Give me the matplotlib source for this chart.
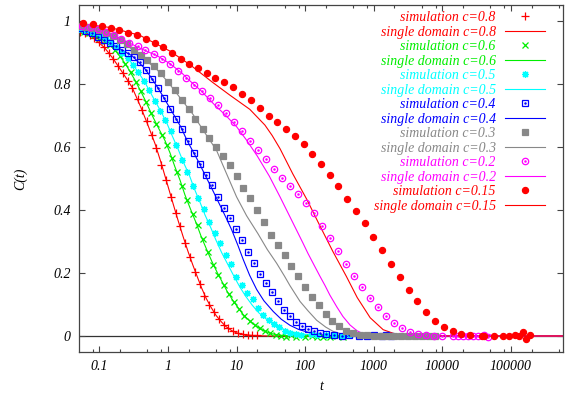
import matplotlib
matplotlib.use('Agg')
import matplotlib.pyplot as plt
from matplotlib.ticker import FixedLocator, NullFormatter

plt.rcParams['font.family'] = 'serif'
plt.rcParams['font.serif'] = ['Liberation Serif', 'DejaVu Serif']
plt.rcParams['font.style'] = 'italic'

# ---- simulation data ----
t_08 = [0.052, 0.061, 0.072, 0.084, 0.099, 0.116, 0.137, 0.16, 0.19, 0.22, 0.26, 0.30, 0.36, 0.42, 0.49,
        0.58, 0.68, 0.80, 0.94, 1.1, 1.3, 1.5, 1.8, 2.1, 2.5, 2.9, 3.4, 4.0, 4.7, 5.5, 6.5, 7.6, 9.0,
        10.5, 12.4, 14.5, 17, 20]
c_08 = [0.966, 0.962, 0.955, 0.946, 0.934, 0.918, 0.9, 0.881, 0.857, 0.834, 0.81, 0.788, 0.752, 0.718, 0.682,
        0.64, 0.597, 0.543, 0.495, 0.442, 0.392, 0.348, 0.295, 0.252, 0.204, 0.165, 0.128, 0.099, 0.075, 0.054,
        0.036, 0.025, 0.016, 0.01, 0.006, 0.004, 0.003, 0.002]

t_06 = [0.05, 0.06, 0.071, 0.084, 0.1, 0.119, 0.142, 0.169, 0.2, 0.24, 0.285, 0.34, 0.4, 0.48, 0.57, 0.68,
        0.81, 0.96, 1.14, 1.36, 1.6, 1.9, 2.3, 2.7, 3.2, 3.8, 4.6, 5.4, 6.5, 7.7, 9.2, 11, 13, 15.5, 18.5,
        22, 26, 31, 37, 44, 52, 62, 74, 99, 125, 147, 184, 229, 288, 359]
c_06 = [0.972, 0.967, 0.961, 0.955, 0.948, 0.938, 0.925, 0.908, 0.889, 0.864, 0.838, 0.808, 0.777, 0.743,
        0.709, 0.672, 0.638, 0.607, 0.567, 0.52, 0.477, 0.432, 0.386, 0.352, 0.307, 0.268, 0.225, 0.193,
        0.163, 0.134, 0.107, 0.086, 0.063, 0.047, 0.035, 0.024, 0.015, 0.009, 0.004, 0.0, -0.004, 0.002,
        -0.002, -0.003, 0.0, -0.004, -0.002, -0.003, -0.001, -0.002]

t_05 = [0.05, 0.06, 0.072, 0.086, 0.104, 0.124, 0.149, 0.179, 0.215, 0.258, 0.31, 0.37, 0.45, 0.53, 0.64,
        0.77, 0.92, 1.1, 1.33, 1.6, 1.9, 2.3, 2.75, 3.3, 4.0, 4.8, 5.7, 6.9, 8.2, 9.9, 11.9, 14.3, 17.1,
        20.5, 24.6, 29.5, 35, 42, 51, 61, 73, 88, 120, 150, 200, 260, 340, 450, 600, 790]
c_05 = [0.975, 0.971, 0.967, 0.961, 0.953, 0.944, 0.932, 0.918, 0.9, 0.882, 0.862, 0.838, 0.81, 0.782,
        0.748, 0.716, 0.686, 0.65, 0.606, 0.56, 0.521, 0.478, 0.438, 0.402, 0.362, 0.326, 0.295, 0.258,
        0.228, 0.188, 0.162, 0.138, 0.116, 0.09, 0.068, 0.05, 0.037, 0.027, 0.017, 0.01, 0.006, 0.003,
        0.005, 0.003, 0.002, 0.004, 0.001, 0.003, 0.0, 0.004]

t_04 = [0.052, 0.064, 0.078, 0.095, 0.117, 0.143, 0.175, 0.214, 0.262, 0.32, 0.39, 0.48, 0.59, 0.72, 0.88,
        1.08, 1.32, 1.61, 1.97, 2.41, 2.95, 3.6, 4.4, 5.4, 6.6, 8.1, 9.9, 12.1, 14.8, 18.1, 22.2, 27.1,
        33.2, 40.6, 49.7, 60.8, 74.4, 91, 111, 136, 167, 204, 260, 340, 430, 600, 800, 1000, 1300, 1500, 1800]
c_04 = [0.978, 0.968, 0.962, 0.95, 0.94, 0.932, 0.922, 0.91, 0.9, 0.887, 0.869, 0.845, 0.816, 0.787, 0.755,
        0.722, 0.689, 0.656, 0.618, 0.581, 0.545, 0.511, 0.481, 0.443, 0.408, 0.374, 0.34, 0.304, 0.266,
        0.232, 0.196, 0.167, 0.139, 0.112, 0.084, 0.062, 0.046, 0.032, 0.022, 0.015, 0.011, 0.006, 0.003,
        0.001, 0.002, 0.0, 0.001, 0.003, -0.001, 0.002, 0.0]

t_03 = [0.05, 0.063, 0.079, 0.1, 0.126, 0.158, 0.2, 0.25, 0.32, 0.4, 0.5, 0.63, 0.79, 1.0, 1.26, 1.58, 2.0,
        2.5, 3.2, 4.0, 5.0, 6.3, 7.9, 10, 12.6, 15.8, 20, 25, 32, 40, 50, 63, 79, 100, 126, 158, 200, 250,
        316, 400, 500, 630, 790, 1000, 1260, 1580, 2000, 2500, 3200, 4000, 5000, 6300, 7900]
c_03 = [0.985, 0.982, 0.977, 0.972, 0.964, 0.954, 0.94, 0.928, 0.91, 0.893, 0.876, 0.857, 0.835, 0.807,
        0.782, 0.75, 0.72, 0.69, 0.657, 0.628, 0.6, 0.573, 0.542, 0.509, 0.471, 0.438, 0.401, 0.363, 0.32,
        0.289, 0.257, 0.222, 0.19, 0.156, 0.125, 0.097, 0.07, 0.048, 0.031, 0.017, 0.008, 0.004, 0.002,
        0.001, 0.0, 0.001, 0.0, 0.001, 0.0, 0.0, 0.001, 0.0, 0.0]

t_02 = [0.055, 0.072, 0.094, 0.123, 0.161, 0.21, 0.275, 0.36, 0.47, 0.62, 0.81, 1.06, 1.38, 1.81, 2.37, 3.1,
        4.06, 5.3, 6.95, 9.1, 11.9, 15.6, 20.4, 26.7, 35, 45.8, 60, 78.5, 103, 134, 176, 230, 302, 395, 517,
        677, 886, 1160, 1520, 1990, 2600, 3410, 4460, 5840, 7650, 9800, 14100, 16700, 20000, 23300, 27700,
        33000, 40300, 46000]
c_02 = [0.985, 0.981, 0.975, 0.966, 0.957, 0.945, 0.932, 0.92, 0.908, 0.895, 0.881, 0.863, 0.841, 0.818,
        0.797, 0.777, 0.757, 0.733, 0.707, 0.68, 0.65, 0.621, 0.592, 0.562, 0.532, 0.503, 0.475, 0.452,
        0.422, 0.39, 0.348, 0.31, 0.27, 0.229, 0.192, 0.156, 0.121, 0.092, 0.065, 0.041, 0.024, 0.013,
        0.006, 0.002, 0.001, 0.0, 0.0, 0.0, 0.0, 0.001, 0.0, 0.0, 0.003, -0.003]

t_015 = [0.058, 0.08, 0.108, 0.146, 0.195, 0.264, 0.357, 0.48, 0.64, 0.854, 1.14, 1.53, 2.04, 2.74, 3.66,
         4.89, 6.6, 8.94, 12.1, 16.2, 21.9, 29.4, 39.3, 52.5, 71, 95, 127, 171, 229, 304, 410, 550, 745, 984,
         1330, 1780, 2400, 3240, 4310, 5800, 7900, 10500, 14100, 18900, 25000, 37600, 40300, 56700, 76000,
         95000, 114000, 131000, 150000, 168000, 189000]
c_015 = [0.993, 0.99, 0.985, 0.979, 0.971, 0.963, 0.955, 0.945, 0.932, 0.918, 0.899, 0.88, 0.864, 0.85,
         0.836, 0.821, 0.807, 0.79, 0.77, 0.749, 0.724, 0.699, 0.681, 0.659, 0.636, 0.609, 0.577, 0.545,
         0.511, 0.476, 0.435, 0.398, 0.358, 0.315, 0.273, 0.23, 0.188, 0.146, 0.112, 0.077, 0.049, 0.028,
         0.017, 0.007, 0.003, 0.0, 0.001, 0.001, 0.0, 0.0, 0.004, 0.001, 0.012, -0.01, 0.004]

# ---- single domain curves ----
sd_t_08 = [0.05, 0.08, 0.12, 0.16, 0.24, 0.3, 0.4, 0.5, 0.65, 0.8, 1.0, 1.2, 1.4, 1.65, 1.95, 2.3, 2.7, 3.1,
           3.6, 4.2, 5, 6, 7, 8.5, 10, 13, 18, 30, 100, 1000, 1e4, 1e5, 6e5]
sd_c_08 = [0.966, 0.95, 0.915, 0.88, 0.823, 0.79, 0.728, 0.675, 0.61, 0.548, 0.476, 0.417, 0.368, 0.318,
           0.27, 0.226, 0.186, 0.152, 0.12, 0.093, 0.066, 0.045, 0.03, 0.017, 0.01, 0.004, 0.001, 0, 0, 0,
           0, 0, 0]

sd_t_06 = [0.05, 0.1, 0.15, 0.2, 0.25, 0.33, 0.4, 0.48, 0.6, 0.75, 0.9, 1.07, 1.26, 1.5, 1.77, 2.15, 2.6,
           3.05, 3.66, 4.34, 5.24, 6.27, 7.33, 8.78, 10.6, 12.5, 15.3, 18.6, 22, 26, 31.6, 38, 50, 100,
           1e3, 1e4, 1e5, 6e5]
sd_c_06 = [0.972, 0.948, 0.92, 0.889, 0.858, 0.813, 0.778, 0.743, 0.697, 0.655, 0.622, 0.582, 0.538,
           0.495, 0.448, 0.401, 0.357, 0.316, 0.275, 0.238, 0.201, 0.169, 0.141, 0.114, 0.089, 0.068,
           0.049, 0.034, 0.023, 0.015, 0.008, 0.004, 0.001, 0, 0, 0, 0, 0]

sd_t_05 = [0.05, 0.1, 0.2, 0.3, 0.45, 0.6, 0.81, 0.977, 1.17, 1.41, 1.67, 2.04, 2.42, 2.93, 3.46, 4.19,
           5.0, 6.06, 7.55, 9.0, 11.0, 13.5, 16.9, 21, 26.6, 33, 41, 52, 69, 100, 150, 1e3, 1e4, 1e5, 6e5]
sd_c_05 = [0.975, 0.953, 0.908, 0.866, 0.81, 0.76, 0.709, 0.673, 0.633, 0.593, 0.553, 0.512, 0.468,
           0.425, 0.385, 0.345, 0.305, 0.265, 0.225, 0.193, 0.158, 0.127, 0.098, 0.074, 0.055, 0.04,
           0.028, 0.019, 0.011, 0.005, 0.001, 0, 0, 0, 0]

sd_t_04 = [0.052, 0.1, 0.2, 0.3, 0.45, 0.56, 0.7, 0.854, 1.04, 1.26, 1.55, 1.87, 2.29, 2.83, 3.46, 4.24,
           5.13, 6.27, 7.3, 8.5, 10.5, 12.5, 15.5, 19.6, 25, 34.2, 45, 60, 80, 105, 140, 184, 320, 1e3,
           1e4, 1e5, 6e5]
sd_c_04 = [0.978, 0.95, 0.912, 0.89, 0.852, 0.823, 0.791, 0.76, 0.728, 0.697, 0.663, 0.624, 0.588, 0.551,
           0.512, 0.474, 0.437, 0.398, 0.368, 0.337, 0.287, 0.243, 0.193, 0.148, 0.112, 0.078, 0.053,
           0.034, 0.021, 0.013, 0.007, 0.003, 0, 0, 0, 0, 0]

sd_t_03 = [0.05, 0.1, 0.2, 0.4, 0.7, 1.0, 1.5, 2.3, 3.3, 5.1, 7.0, 10, 14, 20.5, 28, 38.4, 50, 60, 84,
           110, 147, 200, 254, 330, 450, 700, 1e3, 1e4, 1e5, 6e5]
sd_c_03 = [0.985, 0.972, 0.94, 0.89, 0.845, 0.807, 0.757, 0.705, 0.652, 0.59, 0.52, 0.442, 0.382, 0.325,
           0.275, 0.231, 0.19, 0.16, 0.11, 0.08, 0.05, 0.028, 0.015, 0.007, 0.003, 0.001, 0, 0, 0, 0]

sd_t_02 = [0.055, 0.1, 0.2, 0.4, 0.7, 1.07, 1.6, 2.1, 3.0, 4.6, 7, 10, 14, 20, 30, 43, 58, 75, 92, 110,
           135, 164, 195, 229, 290, 355, 450, 567, 700, 880, 2000, 1e4, 1e5, 6e5]
sd_c_02 = [0.985, 0.973, 0.946, 0.913, 0.89, 0.865, 0.835, 0.81, 0.78, 0.738, 0.7, 0.665, 0.622, 0.572,
           0.508, 0.442, 0.385, 0.336, 0.297, 0.262, 0.225, 0.19, 0.16, 0.13, 0.092, 0.062, 0.035, 0.017,
           0.007, 0.002, 0, 0, 0, 0]

sd_t_015 = [0.052, 0.143, 0.39, 1.07, 2.09, 4.52, 8.0, 15.6, 25.9, 33, 43, 66, 105, 164, 254, 397, 574,
            886, 1370, 2200, 4700, 1e4, 1e5, 6e5]
sd_c_015 = [0.993, 0.98, 0.955, 0.905, 0.862, 0.805, 0.765, 0.72, 0.67, 0.637, 0.595, 0.515, 0.435, 0.35,
            0.268, 0.19, 0.122, 0.058, 0.02, 0.004, 0, 0, 0, 0]

conc = ['0.8', '0.6', '0.5', '0.4', '0.3', '0.2', '0.15']
colors = ['#ff0000', '#00ee00', '#00ffff', '#0000ff', '#888888', '#ff00ff', '#ff0000']

sim = [(t_08, c_08), (t_06, c_06), (t_05, c_05), (t_04, c_04), (t_03, c_03), (t_02, c_02), (t_015, c_015)]
sd = [(sd_t_08, sd_c_08), (sd_t_06, sd_c_06), (sd_t_05, sd_c_05), (sd_t_04, sd_c_04),
      (sd_t_03, sd_c_03), (sd_t_02, sd_c_02), (sd_t_015, sd_c_015)]

# marker style per series: (marker, size, filled, centre dot)
mstyle = [('+', 5.5, True, False), ('x', 4.2, True, False), ((8, 2, 0), 5, True, False),
          ('s', 4.6, False, True), ('s', 4.3, True, False), ('o', 4.6, False, True), ('o', 4.4, True, False)]

fig = plt.figure(figsize=(5.72, 3.96), dpi=100)
ax = fig.add_axes([0.138, 0.111, 0.846, 0.876])
ax.set_xscale('log')
ax.axhline(0, color='#333333', lw=0.9, zorder=1)

handles, labels = [], []
for c, col, (ts, cs), (lt, lc), (mk, ms, filled, dot) in zip(conc, colors, sim, sd, mstyle):
    h, = ax.plot(ts, cs, ls='none', marker=mk, ms=ms, mew=0.9, color=col,
                 mfc=col if filled else 'none', zorder=3)
    hs = h
    if dot:
        d, = ax.plot(ts, cs, ls='none', marker='.', ms=1.6, color=col, zorder=3)
        hs = (h, d)
    l, = ax.plot(lt, lc, color=col, lw=0.8, zorder=2)
    handles += [hs, l]
    labels += ['simulation c=' + c, 'single domain c=' + c]

ax.set_xlim(0.0504, 5.7e5)
ax.set_ylim(-0.051, 1.051)

ax.xaxis.set_major_locator(FixedLocator([0.1, 1, 10, 100, 1000, 1e4, 1e5]))
ax.set_xticklabels(['0.1', '1', '10', '100', '1000', '10000', '100000'])
ax.xaxis.set_minor_locator(FixedLocator([k * 10.0 ** e for e in range(-2, 6) for k in (2, 5, 8)]))
ax.xaxis.set_minor_formatter(NullFormatter())
ax.set_yticks([0, 0.2, 0.4, 0.6, 0.8, 1])
ax.set_yticklabels(['0', '0.2', '0.4', '0.6', '0.8', '1'])

for s in ax.spines.values():
    s.set_color('#444444')
    s.set_linewidth(0.9)
ax.tick_params(which='both', direction='in', top=True, right=True, colors='#444444',
               labelcolor='black', labelsize=10)
ax.tick_params(which='major', length=4, width=0.8, pad=6)
ax.tick_params(which='minor', length=2.2, width=0.8)

ax.set_xlabel('t', fontsize=10)
ax.set_ylabel('C(t)', fontsize=10)
ax.xaxis.set_label_coords(0.5, -0.08)
ax.yaxis.set_label_coords(-0.107, 0.5)

leg = ax.legend(handles, labels, loc='upper right', bbox_to_anchor=(545 / 572, (396 - 11) / 396),
                bbox_transform=fig.transFigure, frameon=False, markerfirst=False, fontsize=10,
                handlelength=2.9, handletextpad=0.65, labelspacing=0.11, borderpad=0,
                borderaxespad=0, numpoints=1)
for txt, col in zip(leg.get_texts(), [c for c in colors for _ in range(2)]):
    txt.set_color(col)

fig.savefig('out.png', dpi=100)
